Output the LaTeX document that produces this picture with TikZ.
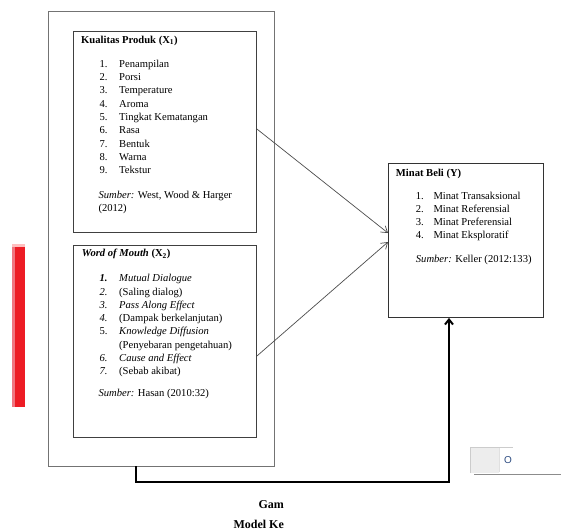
\documentclass[tikz,border=0pt]{standalone}
\usepackage{fontspec}
\setmainfont{Liberation Serif}
\newfontfamily\uifont{Liberation Sans}
\usetikzlibrary{arrows.meta,calc}
\definecolor{redbar}{HTML}{ED1C24}
\definecolor{redlight}{HTML}{F07680}
\definecolor{uiblue}{HTML}{2B4A80}
\begin{document}
\begin{tikzpicture}[x=1pt,y=-1pt,
  outerbox/.style={draw=black!55,line width=1.1pt,anchor=north west,inner sep=0,minimum width=226pt,minimum height=455pt},
  innerbox/.style={draw=black!75,line width=0.9pt,anchor=north west,inner sep=0},
  txt/.style={inner sep=0,anchor=base west,font=\fontsize{10.6}{13}\selectfont},
  thin arrow/.style={draw=black!70,line width=0.7pt,-{Straight Barb[length=6pt,width=8pt]}},
  thick arrow/.style={draw=black,line width=2pt,-{Straight Barb[length=5pt,width=8pt]}}]
\useasboundingbox (0,0) rectangle (561,531);
% red bar
\fill[redbar] (15,244) rectangle (25,407);
\fill[redlight] (12,244) rectangle (15,407);
\fill[red!25] (12,244) rectangle (25,247);
% boxes
\node[outerbox] (outer) at (48,11) {};
\node[innerbox,minimum width=183pt,minimum height=201pt] (kp) at (73,31) {};
\node[innerbox,minimum width=183pt,minimum height=192pt] (wom) at (73,245) {};
\node[innerbox,draw=black!80,minimum width=155pt,minimum height=154pt] (mb) at (388,163) {};
% Kualitas Produk
\node[txt,font=\fontsize{10.6}{13}\selectfont\bfseries] (kpt) at (81,43.3) {Kualitas Produk (X\textsubscript{1})};
\foreach \t [count=\i] in {Penampilan,Porsi,Temperature,Aroma,Tingkat Kematangan,Rasa,Bentuk,Warna,Tekstur}{
  \node[txt] (kpn\i) at (99.3,{67.3+13.3*(\i-1)}) {\i.};
  \node[txt] (kpi\i) at (119,{67.3+13.3*(\i-1)}) {\t};
}
\node[txt] (kps) at (98.3,198.3) {\textit{Sumber:} West, Wood \& Harger};
\node[txt] (kps2) at (98.3,211.6) {(2012)};
% Word of Mouth
\node[txt,font=\fontsize{10.6}{13}\selectfont\bfseries] (womt) at (81.7,256.7) {\textit{Word of Mouth} (X\textsubscript{2})};
\node[txt] (wn1) at (99.3,281.7) {\textbf{\textit{1.}}};
\node[txt] (wi1) at (119,281.7) {\textit{Mutual Dialogue}};
\node[txt] (wn2) at (99.3,295.0) {\textit{2.}};
\node[txt] (wi2) at (119,295.0) {(Saling dialog)};
\node[txt] (wn3) at (99.3,308.3) {\textit{3.}};
\node[txt] (wi3) at (119,308.3) {\textit{Pass Along Effect}};
\node[txt] (wn4) at (99.3,321.6) {\textit{4.}};
\node[txt] (wi4) at (119,321.6) {(Dampak berkelanjutan)};
\node[txt] (wn5) at (99.3,334.9) {5.};
\node[txt] (wi5) at (119,334.9) {\textit{Knowledge Diffusion}};
\node[txt] (wi5b) at (119,348.2) {(Penyebaran pengetahuan)};
\node[txt] (wn6) at (99.3,361.5) {\textit{6.}};
\node[txt] (wi6) at (119,361.5) {\textit{Cause and Effect}};
\node[txt] (wn7) at (99.3,374.8) {\textit{7.}};
\node[txt] (wi7) at (119,374.8) {(Sebab akibat)};
\node[txt] (wsum) at (98.3,396.7) {\textit{Sumber:} Hasan (2010:32)};
% Minat Beli
\node[txt,font=\fontsize{10.6}{13}\selectfont\bfseries] (mbt) at (395.7,176) {Minat Beli (Y)};
\foreach \t [count=\i] in {Minat Transaksional,Minat Referensial,Minat Preferensial,Minat Eksploratif}{
  \node[txt] (mbn\i) at (415.7,{199.3+13.1*(\i-1)}) {\i.};
  \node[txt] (mbi\i) at (433.3,{199.3+13.1*(\i-1)}) {\t};
}
\node[txt] (mbs) at (415.7,262.7) {\textit{Sumber:} Keller (2012:133)};
% connectors
\coordinate (a1s) at (kp.east |- 0,129);
\coordinate (a1e) at (mb.west |- 0,233);
\coordinate (a2s) at (wom.east |- 0,356);
\coordinate (a2e) at (mb.west |- 0,242);
\draw[thin arrow] (a1s) -- (a1e);
\draw[thin arrow] (a2s) -- (a2e);
\coordinate (c1) at (136,466);
\coordinate (c2) at (136,482);
\coordinate (c3) at (449,482);
\draw[thick arrow] (c1) -- (c2) -- (c3) -- (mb.south -| c3);
% caption fragments
\node[txt,font=\fontsize{12}{14}\selectfont\bfseries] (cap1) at (258.3,508) {Gam};
\node[txt,font=\fontsize{12}{14}\selectfont\bfseries] (cap2) at (233.3,528.3) {Model Ke};
% ui button fragment
\draw[line width=1.6pt,black!45] (474,474.3) -- (561,474.3);
\fill[black!7] (470,447) rectangle (499,473);
\fill[white] (499,447) rectangle (513,473);
\draw[black!20,line width=0.6pt] (470,473) -- (470,447) -- (513,447);
\draw[black!12,line width=0.6pt] (499,448) -- (499,472);
\begin{scope}
\clip (499,447) rectangle (511,473);
\node[inner sep=0,anchor=base west,text=uiblue,font=\uifont\fontsize{10}{12}\selectfont] (btn) at (504,463.3) {O};
\end{scope}
\end{tikzpicture}
\end{document}
